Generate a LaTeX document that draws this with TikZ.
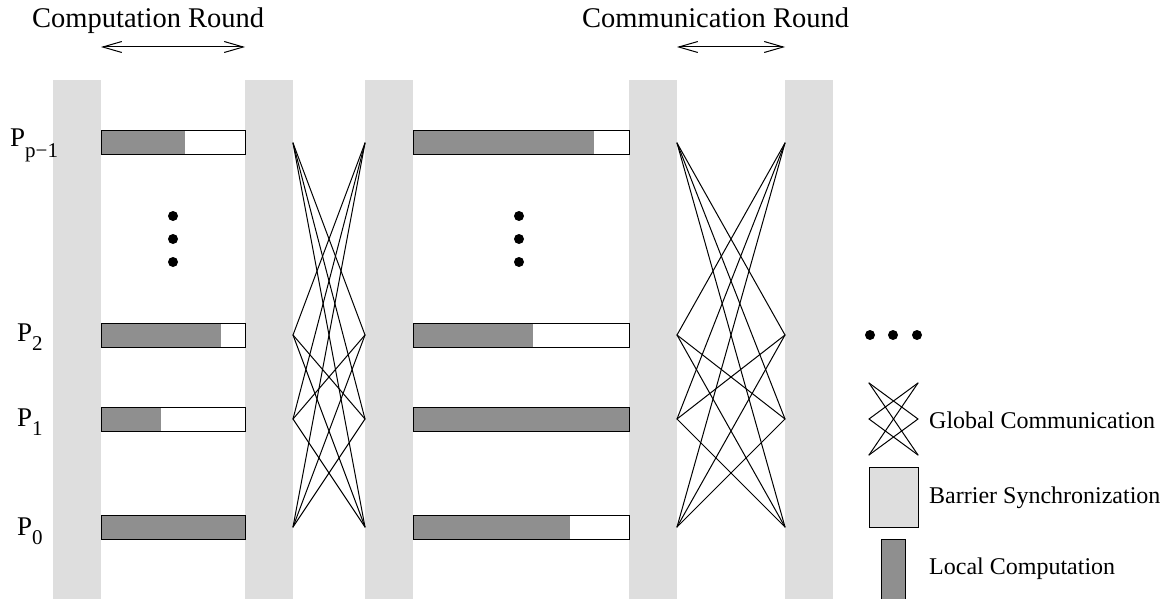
\documentclass[tikz,border=0pt]{standalone}
\usepackage{fontspec}
\setmainfont{Liberation Serif}
\usetikzlibrary{arrows.meta}
\definecolor{barriergray}{RGB}{222,222,222}
\definecolor{compgray}{RGB}{143,143,143}
\newcommand\procsub[2]{\raisebox{-#1pt}{\fontsize{21}{21}\selectfont #2}}
\tikzset{
  barrier/.style={fill=barriergray},
  workbar/.style={draw=black, line width=1pt},
  busy/.style={fill=compgray},
  msg/.style={line width=1pt, line cap=round},
  header/.style={anchor=base west, inner sep=0pt, font=\fontsize{28.5}{30}\selectfont},
  legendtext/.style={anchor=base west, inner sep=0pt, font=\fontsize{24}{26}\selectfont},
  proclabel/.style={anchor=base west, inner sep=0pt, font=\fontsize{27}{29}\selectfont},
  roundarrow/.style={line width=1pt, {Straight Barb[length=19pt,width=11pt]}-{Straight Barb[length=19pt,width=11pt]}},
  dot/.style={fill=black}
}
\begin{document}
\begin{tikzpicture}[x=1pt, y=-1pt]
\useasboundingbox (0,0) rectangle (1165,599);
\clip (0,0) rectangle (1165,599);

% barrier synchronisation columns
\foreach \xl in {53,245,365,629,785}
  \fill[barrier] (\xl,80) rectangle ++(48,519);

% headers and round arrows
\node[header] (hcomp) at (32,28) {Computation Round};
\node[header] (hcomm) at (582,28) {Communication Round};
\coordinate (ca1) at (101,47);
\coordinate (ca2) at (245,47);
\coordinate (cb1) at (677,47);
\coordinate (cb2) at (785,47);
\draw[roundarrow] (ca1) -- (ca2);
\draw[roundarrow] (cb1) -- (cb2);

% processor labels
\node[proclabel] (lp) at (10,147) {P\procsub{10}{p−1}};
\node[proclabel] (l2) at (17,341) {P\procsub{9.5}{2}};
\node[proclabel] (l1) at (17,426) {P\procsub{9.5}{1}};
\node[proclabel] (l0) at (17,535) {P\procsub{9.5}{0}};

% work bars: first superstep
\fill[busy] (101,131) rectangle (185,155);
\draw[workbar] (101,131) rectangle (245,155);
\fill[busy] (101,323) rectangle (221,347);
\draw[workbar] (101,323) rectangle (245,347);
\fill[busy] (101,407) rectangle (161,431);
\draw[workbar] (101,407) rectangle (245,431);
\fill[busy] (101,515) rectangle (245,539);
\draw[workbar] (101,515) rectangle (245,539);

% work bars: second superstep
\fill[busy] (413,131) rectangle (594,155);
\draw[workbar] (413,131) rectangle (629,155);
\fill[busy] (413,323) rectangle (533,347);
\draw[workbar] (413,323) rectangle (629,347);
\fill[busy] (413,407) rectangle (629,431);
\draw[workbar] (413,407) rectangle (629,431);
\fill[busy] (413,515) rectangle (570,539);
\draw[workbar] (413,515) rectangle (629,539);

% vertical ellipses
\foreach \yy in {216,239,262} {
  \fill[dot] (173,\yy) circle (5);
  \fill[dot] (519,\yy) circle (5);
}

% global communication between supersteps
\foreach \i/\yy in {1/143,2/335,3/419,4/527} {
  \coordinate (A\i) at (293,\yy);
  \coordinate (B\i) at (365,\yy);
  \coordinate (C\i) at (677,\yy);
  \coordinate (D\i) at (785,\yy);
}
\foreach \i in {1,...,4}
  \foreach \j in {1,...,4} {
    \ifnum\i=\j\else
      \draw[msg] (A\i) -- (B\j);
      \draw[msg] (C\i) -- (D\j);
    \fi
  }

% horizontal ellipsis
\foreach \xx in {870,893,917}
  \fill[dot] (\xx,335) circle (5);

% legend: global communication
\foreach \i/\yy in {1/383,2/419,3/455} {
  \coordinate (G\i) at (869,\yy);
  \coordinate (H\i) at (918,\yy);
}
\foreach \i in {1,2,3}
  \foreach \j in {1,2,3} {
    \ifnum\i=\j\else
      \draw[msg] (G\i) -- (H\j);
    \fi
  }
\node[legendtext] (tglob) at (929,428) {Global Communication};

% legend: barrier synchronisation
\draw[barrier, draw=black, line width=1pt] (869,467) rectangle (918,527);
\node[legendtext] (tbar) at (929,503) {Barrier Synchronization};

% legend: local computation
\draw[busy, draw=black, line width=1pt] (881,539) rectangle (905,605);
\node[legendtext] (tloc) at (929,574) {Local Computation};
\end{tikzpicture}
\end{document}
